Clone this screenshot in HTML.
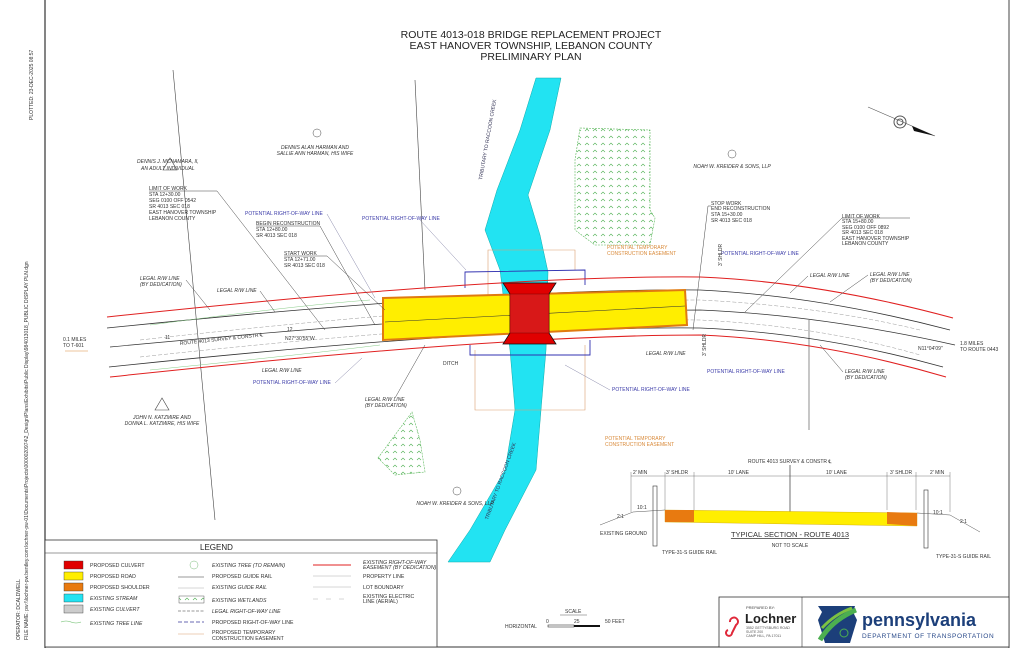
<!DOCTYPE html>
<html><head><meta charset="utf-8"><style>
html,body{margin:0;padding:0;background:#fff;}
svg{display:block;font-family:"Liberation Sans",sans-serif;}
.s{font-size:5px;fill:#333;}
.i{font-size:5px;fill:#333;font-style:italic;}
.b{font-size:5px;fill:#3a3aa8;}
.o{font-size:5px;fill:#d98a3a;}
.lg{font-size:5.2px;fill:#333;}
</style></head><body>
<svg width="1024" height="663" viewBox="0 0 1024 663" xmlns="http://www.w3.org/2000/svg">
<rect width="1024" height="663" fill="#fff"/>
<line x1="45" y1="0" x2="45" y2="648" stroke="#333" stroke-width="1.2"/>
<line x1="1009" y1="0" x2="1009" y2="648" stroke="#444" stroke-width="1"/>
<line x1="45" y1="647" x2="1009" y2="647" stroke="#333" stroke-width="1"/>
<text class="s" transform="translate(33,120) rotate(-90)">PLOTTED:  23-DEC-2025 08:57</text>
<text class="s" transform="translate(28,640) rotate(-90)">FILE NAME: pw:\\lochner-pw.bentley.com:lochner-pw-01\Documents\Projects\0000020974\2_Design\Plans\Exhibits\Public Display\984013018_PUBLIC DISPLAY PLN.dgn</text>
<text class="s" transform="translate(20,640) rotate(-90)">OPERATOR: DCALDWELL</text>
<g font-size="10.5" fill="#222" text-anchor="middle">
<text x="531" y="38">ROUTE 4013-018 BRIDGE REPLACEMENT PROJECT</text>
<text x="531" y="49">EAST HANOVER TOWNSHIP, LEBANON COUNTY</text>
<text x="531" y="60">PRELIMINARY PLAN</text>
</g>
<line x1="868" y1="107" x2="935" y2="136" stroke="#555" stroke-width="0.6"/>
<circle cx="900" cy="122" r="6" fill="none" stroke="#555"/><circle cx="900" cy="122" r="3" fill="none" stroke="#555"/>
<polygon points="912,126 935,136 914,131" fill="#111"/>
<line x1="173" y1="70" x2="215" y2="520" stroke="#444" stroke-width="0.6"/>
<line x1="415" y1="80" x2="425" y2="290" stroke="#444" stroke-width="0.6"/>
<line x1="809" y1="320" x2="809" y2="430" stroke="#444" stroke-width="0.6"/>
<defs><pattern id="w" width="8" height="7" patternUnits="userSpaceOnUse"><path d="M1,5 l2,-2 l2,2" fill="none" stroke="#4caf50" stroke-width="0.6"/></pattern></defs>
<polygon points="580,128 650,130 650,210 655,218 650,245 595,245 575,230 575,160" fill="url(#w)" stroke="#5cb85c" stroke-width="0.6" stroke-dasharray="2,1"/>
<polygon points="378,458 412,412 420,440 425,472 395,475" fill="url(#w)" stroke="#5cb85c" stroke-width="0.6" stroke-dasharray="2,1"/>
<path d="M536,78 L561,78 L550,130 L528,195 L540,235 L548,272 L546,350 L541,410 L536,470 L505,530 L490,562 L448,562 L470,530 L505,470 L515,410 L510,350 L500,270 L485,230 L497,190 L520,130 Z" fill="#22e3f2" stroke="#1aa" stroke-width="0.5"/>
<text font-size="5" fill="#335" transform="translate(482,180) rotate(-80)">TRIBUTARY TO RACCOON CREEK</text>
<text font-size="5" fill="#335" transform="translate(488,520) rotate(-70)">TRIBUTARY TO RACCOON CREEK</text>
<polyline points="488,295 488,250 575,250 575,270" fill="none" stroke="#d9a070" stroke-width="0.6"/>
<polyline points="475,350 475,410 585,410 585,345" fill="none" stroke="#d9a070" stroke-width="0.6"/>
<polyline points="465,288 465,272 585,270 585,285" fill="none" stroke="#3030b0" stroke-width="0.9"/>
<polyline points="470,345 470,355 590,355 590,340" fill="none" stroke="#3030b0" stroke-width="0.9"/>
<path d="M107,317 Q500,275 700,277 Q820,282 953,318" fill="none" stroke="#e02020" stroke-width="1"/>
<path d="M110,377 Q500,335 700,335 Q820,340 946,377" fill="none" stroke="#e02020" stroke-width="1"/>
<path d="M107,328 Q500,288 700,290 Q820,296 950,330" fill="none" stroke="#333" stroke-width="0.8"/>
<path d="M109,367 Q500,326 700,328 Q820,333 943,367" fill="none" stroke="#333" stroke-width="0.8"/>
<path d="M110,347 Q500,310 700,310 Q820,315 955,345" fill="none" stroke="#333" stroke-width="0.7"/>
<path d="M140,340 Q500,300 700,300 Q820,306 920,330" fill="none" stroke="#999" stroke-width="0.5" stroke-dasharray="4,2"/>
<path d="M140,357 Q500,318 700,320 Q820,326 920,355" fill="none" stroke="#999" stroke-width="0.5" stroke-dasharray="4,2"/>
<path d="M150,325 Q300,305 370,300" fill="none" stroke="#8c8" stroke-width="0.5"/>
<path d="M150,370 Q300,355 380,345" fill="none" stroke="#8c8" stroke-width="0.5"/>
<polygon points="383,298 685,290 687,325 383,340" fill="#ffee00" stroke="#e07a10" stroke-width="2"/>
<line x1="385" y1="322" x2="685" y2="306" stroke="#333" stroke-width="0.6"/>
<polygon points="503,283 556,283 549,294 549,333 556,344 503,344 510,333 510,294" fill="#e00000" stroke="#111" stroke-width="0.8"/>
<rect x="510" y="294" width="39" height="39" fill="#d81818" stroke="#600" stroke-width="0.4"/>
<polygon points="170,158 163,170 177,170" fill="none" stroke="#444" stroke-width="0.6"/>
<text class="i" x="137" y="163">DENNIS J. MCNAMARA, II,</text>
<text class="i" x="141" y="170">AN ADULT INDIVIDUAL</text>
<circle cx="317" cy="133" r="4" fill="none" stroke="#444" stroke-width="0.5"/>
<text class="i" x="315" y="149" text-anchor="middle">DENNIS ALAN HARMAN AND</text>
<text class="i" x="315" y="155" text-anchor="middle">SALLIE ANN HARMAN, HIS WIFE</text>
<text x="149" y="190" class="s">LIMIT OF WORK</text><text x="149" y="196" class="s">STA 12+30.00</text><text x="149" y="202" class="s">SEG 0100 OFF 0542</text><text x="149" y="208" class="s">SR 4013 SEC 018</text><text x="149" y="214" class="s">EAST HANOVER TOWNSHIP</text><text x="149" y="220" class="s">LEBANON COUNTY</text>
<polyline points="149,191 217,191 325,330" fill="none" stroke="#444" stroke-width="0.5"/>
<text class="b" x="245" y="215">POTENTIAL RIGHT-OF-WAY LINE</text>
<text class="b" x="362" y="220">POTENTIAL RIGHT-OF-WAY LINE</text>
<text class="s" x="256" y="225">BEGIN RECONSTRUCTION</text><text class="s" x="256" y="231">STA 12+80.00</text><text class="s" x="256" y="237">SR 4013 SEC 018</text>
<polyline points="256,226 320,226 375,325" fill="none" stroke="#444" stroke-width="0.5"/>
<line x1="327" y1="214" x2="375" y2="298" stroke="#88a" stroke-width="0.5"/>
<line x1="420" y1="220" x2="466" y2="270" stroke="#88a" stroke-width="0.5"/>
<text class="s" x="284" y="255">START WORK</text><text class="s" x="284" y="261">STA 12+71.00</text><text class="s" x="284" y="267">SR 4013 SEC 018</text>
<polyline points="284,256 327,256 385,310" fill="none" stroke="#444" stroke-width="0.5"/>
<text class="i" x="140" y="280">LEGAL R/W LINE</text><text class="i" x="140" y="286">(BY DEDICATION)</text>
<line x1="186" y1="280" x2="210" y2="310" stroke="#444" stroke-width="0.5"/>
<text class="i" x="217" y="292">LEGAL R/W LINE</text>
<line x1="260" y1="291" x2="275" y2="312" stroke="#444" stroke-width="0.5"/>
<text class="s" x="63" y="341">0.1 MILES</text><text class="s" x="63" y="347">TO T-601</text>
<line x1="65" y1="351" x2="88" y2="351" stroke="#d98a3a" stroke-width="0.6"/>
<text class="s" x="180" y="345" transform="rotate(-6 180 345)">ROUTE 4013 SURVEY &amp; CONSTR ℄</text>
<text class="s" x="285" y="340">N27°30'55"W</text><text class="s" x="287" y="331">12</text><text class="s" x="165" y="339">11</text>
<text class="i" x="262" y="372">LEGAL R/W LINE</text>
<text class="b" x="253" y="384">POTENTIAL RIGHT-OF-WAY LINE</text>
<line x1="335" y1="383" x2="362" y2="358" stroke="#88a" stroke-width="0.5"/>
<polygon points="162,398 155,410 169,410" fill="none" stroke="#444" stroke-width="0.6"/>
<text class="i" x="162" y="419" text-anchor="middle">JOHN N. KATZMIRE AND</text>
<text class="i" x="162" y="425" text-anchor="middle">DONNA L. KATZMIRE, HIS WIFE</text>
<text class="i" x="365" y="401">LEGAL R/W LINE</text><text class="i" x="365" y="407">(BY DEDICATION)</text>
<line x1="395" y1="398" x2="425" y2="345" stroke="#444" stroke-width="0.5"/>
<text class="s" x="443" y="365">DITCH</text>
<circle cx="457" cy="491" r="4" fill="none" stroke="#444" stroke-width="0.5"/>
<text class="i" x="455" y="505" text-anchor="middle">NOAH W. KREIDER &amp; SONS, LLP</text>
<text class="o" x="607" y="249">POTENTIAL TEMPORARY</text><text class="o" x="607" y="255">CONSTRUCTION EASEMENT</text>
<text class="o" x="605" y="440">POTENTIAL TEMPORARY</text><text class="o" x="605" y="446">CONSTRUCTION EASEMENT</text>
<circle cx="732" cy="154" r="4" fill="none" stroke="#444" stroke-width="0.5"/>
<text class="i" x="732" y="168" text-anchor="middle">NOAH W. KREIDER &amp; SONS, LLP</text>
<text class="s" x="711" y="205">STOP WORK</text><text class="s" x="711" y="210">END RECONSTRUCTION</text><text class="s" x="711" y="216">STA 15+30.00</text><text class="s" x="711" y="222">SR 4013 SEC 018</text>
<polyline points="711,206 708,206 693,330" fill="none" stroke="#444" stroke-width="0.5"/>
<text class="s" x="842" y="218">LIMIT OF WORK</text><text class="s" x="842" y="223">STA 15+80.00</text><text class="s" x="842" y="229">SEG 0100 OFF 0892</text><text class="s" x="842" y="234">SR 4013 SEC 018</text><text class="s" x="842" y="240">EAST HANOVER TOWNSHIP</text><text class="s" x="842" y="245">LEBANON COUNTY</text>
<polyline points="910,218 842,218 745,312" fill="none" stroke="#444" stroke-width="0.5"/>
<text class="b" x="721" y="255">POTENTIAL RIGHT-OF-WAY LINE</text>
<text class="i" x="810" y="277">LEGAL R/W LINE</text>
<line x1="808" y1="276" x2="790" y2="293" stroke="#444" stroke-width="0.5"/>
<text class="i" x="870" y="276">LEGAL R/W LINE</text><text class="i" x="870" y="282">(BY DEDICATION)</text>
<line x1="868" y1="275" x2="830" y2="302" stroke="#444" stroke-width="0.5"/>
<text class="s" x="960" y="345">1.8 MILES</text><text class="s" x="960" y="351">TO ROUTE 0443</text>
<text class="s" x="918" y="350">N11°04'09"</text>
<text class="i" x="646" y="355">LEGAL R/W LINE</text>
<text class="b" x="707" y="373">POTENTIAL RIGHT-OF-WAY LINE</text>
<text class="b" x="612" y="391">POTENTIAL RIGHT-OF-WAY LINE</text>
<line x1="610" y1="390" x2="565" y2="365" stroke="#88a" stroke-width="0.5"/>
<text class="i" x="845" y="373">LEGAL R/W LINE</text><text class="i" x="845" y="379">(BY DEDICATION)</text>
<line x1="843" y1="372" x2="820" y2="345" stroke="#444" stroke-width="0.5"/>
<text class="s" transform="translate(722,266) rotate(-90)">3' SHLDR</text>
<text class="s" transform="translate(706,356) rotate(-90)">3' SHLDR</text>
<text class="s" x="748" y="463">ROUTE 4013 SURVEY &amp; CONSTR ℄</text>
<line x1="790" y1="465" x2="790" y2="512" stroke="#333" stroke-width="0.7"/>
<line x1="631" y1="476" x2="950" y2="476" stroke="#555" stroke-width="0.4"/>
<g class="s"><text x="633" y="474">2' MIN</text><text x="666" y="474">3' SHLDR</text><text x="728" y="474">10' LANE</text><text x="826" y="474">10' LANE</text><text x="890" y="474">3' SHLDR</text><text x="930" y="474">2' MIN</text></g>
<g stroke="#555" stroke-width="0.4"><line x1="631" y1="472" x2="631" y2="512"/><line x1="665" y1="472" x2="665" y2="510"/><line x1="694" y1="472" x2="694" y2="510"/><line x1="887" y1="472" x2="887" y2="510"/><line x1="916" y1="472" x2="916" y2="510"/><line x1="950" y1="472" x2="950" y2="512"/></g>
<rect x="653" y="486" width="4" height="60" fill="#fff" stroke="#333" stroke-width="0.6"/>
<rect x="924" y="490" width="4" height="58" fill="#fff" stroke="#333" stroke-width="0.6"/>
<polyline points="600,525 633,512 665,510" fill="none" stroke="#555" stroke-width="0.5"/>
<polyline points="917,513 950,515 980,532" fill="none" stroke="#555" stroke-width="0.5"/>
<polygon points="665,510 917,513 917,526 665,522" fill="#ffee00" stroke="#c9a000" stroke-width="0.4"/>
<polygon points="665,510 694,510 694,522 665,522" fill="#e87a10"/>
<polygon points="887,512 917,513 917,526 887,524" fill="#e87a10"/>
<text class="s" x="637" y="509">10:1</text><text class="s" x="933" y="514">10:1</text><text class="s" x="617" y="518">2:1</text><text class="s" x="960" y="523">2:1</text>
<text class="s" x="600" y="535">EXISTING GROUND</text>
<text class="s" x="662" y="554">TYPE-31-S GUIDE RAIL</text>
<text class="s" x="936" y="558">TYPE-31-S GUIDE RAIL</text>
<text x="790" y="537" font-size="7.5" fill="#333" text-anchor="middle" text-decoration="underline">TYPICAL SECTION - ROUTE 4013</text>
<text class="s" x="790" y="547" text-anchor="middle">NOT TO SCALE</text>
<rect x="45" y="540" width="392" height="107" fill="#fff" stroke="#333" stroke-width="0.8"/>
<line x1="45" y1="553" x2="437" y2="553" stroke="#333" stroke-width="0.6"/>
<text x="200" y="550" font-size="8" fill="#222">LEGEND</text>
<rect x="64" y="561" width="19" height="8" fill="#e00000" stroke="#333" stroke-width="0.4"/>
<rect x="64" y="572" width="19" height="8" fill="#ffee00" stroke="#333" stroke-width="0.4"/>
<rect x="64" y="583" width="19" height="8" fill="#e87a10" stroke="#333" stroke-width="0.4"/>
<rect x="64" y="594" width="19" height="8" fill="#22e3f2" stroke="#333" stroke-width="0.4"/>
<rect x="64" y="605" width="19" height="8" fill="#ccc" stroke="#333" stroke-width="0.4"/>
<path d="M61,622 q5,-2 10,0 q5,2 10,0" fill="none" stroke="#6b6" stroke-width="0.6"/>
<g class="lg"><text x="90" y="567">PROPOSED CULVERT</text><text x="90" y="578">PROPOSED ROAD</text><text x="90" y="589">PROPOSED SHOULDER</text><text x="90" y="600" font-style="italic">EXISTING STREAM</text><text x="90" y="611" font-style="italic">EXISTING CULVERT</text><text x="90" y="625" font-style="italic">EXISTING TREE LINE</text></g>
<circle cx="194" cy="565" r="4" fill="none" stroke="#7b7" stroke-width="0.5"/>
<line x1="178" y1="577" x2="204" y2="577" stroke="#333" stroke-width="0.6"/>
<line x1="178" y1="588" x2="204" y2="588" stroke="#999" stroke-width="0.4"/>
<rect x="179" y="596" width="25" height="7" fill="url(#w)" stroke="#333" stroke-width="0.4"/>
<line x1="178" y1="611" x2="204" y2="611" stroke="#333" stroke-width="0.6" stroke-dasharray="3,1.5"/>
<line x1="178" y1="622" x2="204" y2="622" stroke="#3a3a9a" stroke-width="0.8" stroke-dasharray="4,2"/>
<line x1="178" y1="634" x2="204" y2="634" stroke="#d9a070" stroke-width="0.6"/>
<g class="lg" font-style="italic"><text x="212" y="567">EXISTING TREE (TO REMAIN)</text><text x="212" y="578" font-style="normal">PROPOSED GUIDE RAIL</text><text x="212" y="589">EXISTING GUIDE RAIL</text><text x="212" y="602">EXISTING WETLANDS</text><text x="212" y="613">LEGAL RIGHT-OF-WAY LINE</text><text x="212" y="624" font-style="normal">PROPOSED RIGHT-OF-WAY LINE</text><text x="212" y="634" font-style="normal">PROPOSED TEMPORARY</text><text x="212" y="640" font-style="normal">CONSTRUCTION EASEMENT</text></g>
<line x1="313" y1="565" x2="351" y2="565" stroke="#e02020" stroke-width="1"/>
<line x1="313" y1="576" x2="351" y2="576" stroke="#999" stroke-width="0.4"/>
<line x1="313" y1="587" x2="351" y2="587" stroke="#999" stroke-width="0.4"/>
<line x1="313" y1="599" x2="351" y2="599" stroke="#999" stroke-width="0.4" stroke-dasharray="5,8"/>
<g class="lg" font-style="italic"><text x="363" y="564">EXISTING RIGHT-OF-WAY</text><text x="363" y="569">EASEMENT (BY DEDICATION)</text><text x="363" y="578" font-style="normal">PROPERTY LINE</text><text x="363" y="589" font-style="normal">LOT BOUNDARY</text><text x="363" y="598" font-style="normal">EXISTING ELECTRIC</text><text x="363" y="603" font-style="normal">LINE (AERIAL)</text></g>
<text class="s" x="565" y="613">SCALE</text>
<line x1="560" y1="615" x2="587" y2="615" stroke="#333" stroke-width="0.4"/>
<text class="s" x="505" y="628">HORIZONTAL</text>
<text class="s" x="546" y="623">0</text><text class="s" x="574" y="623">25</text><text class="s" x="605" y="623">50 FEET</text>
<rect x="548" y="625" width="26" height="2" fill="#fff" stroke="#111" stroke-width="0.5"/>
<rect x="574" y="625" width="26" height="2" fill="#111"/>
<rect x="719" y="597" width="290" height="50" fill="#fff" stroke="#333" stroke-width="0.8"/>
<line x1="802" y1="597" x2="802" y2="647" stroke="#333" stroke-width="0.6"/>
<text x="746" y="609" font-size="4" fill="#444">PREPARED BY:</text>
<path d="M730,622 a4,4 0 1 1 6,3 l-4,8 a3,3 0 1 1 -4,-3" fill="none" stroke="#e0283a" stroke-width="2"/>
<text x="745" y="623" font-size="13" font-weight="bold" fill="#222">Lochner</text>
<text x="746" y="629" font-size="3.5" fill="#555">3552 GETTYSBURG ROAD</text>
<text x="746" y="633" font-size="3.5" fill="#555">SUITE 200</text>
<text x="746" y="637" font-size="3.5" fill="#555">CAMP HILL, PA 17011</text>
<polygon points="818,606 855,606 853,612 857,620 850,643 825,643 818,620 822,612" fill="#1c3f7a"/>
<path d="M820,640 Q832,620 856,610" fill="none" stroke="#4caf50" stroke-width="5"/>
<path d="M822,628 Q835,614 852,608" fill="none" stroke="#7cc242" stroke-width="3"/>
<circle cx="844" cy="633" r="4" fill="#1c3f7a" stroke="#4caf50"/>
<text x="862" y="626" font-size="18" font-weight="bold" fill="#1c3f7a">pennsylvania</text>
<text x="862" y="638" font-size="6.5" fill="#2a4a8a" letter-spacing="0.6">DEPARTMENT OF TRANSPORTATION</text>
</svg>
</body></html>
